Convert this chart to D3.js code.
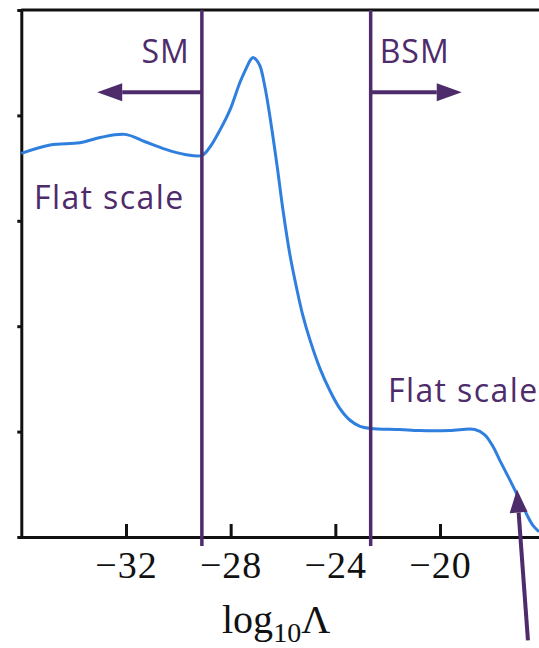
<!DOCTYPE html>
<html>
<head>
<meta charset="utf-8">
<script src="https://cdn.jsdelivr.net/npm/d3@7"></script>
<style>
  body { margin: 0; background: #fff; }
  svg { display: block; }
</style>
</head>
<body>
<div id="chart"></div>
<script>
// curve: x = log10 Lambda, y = unlabelled density
const lambdaLog = [-36.0, -34.9, -33.76, -32.99, -32.04, -31.27, -30.51, -29.75, -29.10, -28.79,
  -28.41, -28.03, -27.65, -27.38, -27.26, -27.15, -27.03, -26.88, -26.69, -26.50,
  -26.23, -26.00, -25.73, -25.47, -25.24, -24.97, -24.59, -24.21, -23.83, -23.45,
  -23.06, -22.64, -21.54, -20.77, -19.63, -18.67, -18.29, -17.98, -17.72, -17.41,
  -17.07, -16.76, -16.45, -16.22];
const density = [3.64, 3.72, 3.74, 3.79, 3.82, 3.75, 3.68, 3.63, 3.62, 3.70,
  3.86, 4.05, 4.31, 4.46, 4.52, 4.55, 4.53, 4.47, 4.27, 3.99,
  3.53, 3.10, 2.67, 2.35, 2.10, 1.87, 1.60, 1.39, 1.22, 1.11,
  1.05, 1.03, 1.02, 1.01, 1.01, 1.02, 0.97, 0.86, 0.73, 0.58,
  0.41, 0.25, 0.11, 0.05];

const xTicks = [-32, -28, -24, -20];
const yTicks = [1, 2, 3, 4];

// SM / BSM boundaries and the arrows pointing away from them
const boundaries = [-29.1, -22.65];
const regionNames = ['SM', 'BSM'];
const arrowTips = [-33.1, -19.17];
const arrowLevel = 4.22;
const flatLabels = ['Flat scale', 'Flat scale'];

const width = 539, height = 648;
const purple = '#4e2c6b';
const blue = '#2f7fdf';

const svg = d3.select('#chart').append('svg')
  .attr('width', width)
  .attr('height', height);

const x = d3.scaleLinear().domain([-36, -16]).range([21.3, 544.7]);
const y = d3.scaleLinear().domain([0, 5]).range([537, 10]);

// top frame line
svg.append('line')
  .attr('x1', x(-36)).attr('x2', width)
  .attr('y1', y(5)).attr('y2', y(5))
  .attr('stroke', '#111').attr('stroke-width', 3);

// y axis (no labels)
const yAxis = svg.append('g')
  .attr('transform', `translate(${x(-36)},0)`)
  .call(d3.axisLeft(y).tickValues(yTicks).tickSize(4).tickFormat(''));
yAxis.select('.domain').attr('stroke', '#111').attr('stroke-width', 3);
yAxis.selectAll('.tick line').attr('stroke', '#111').attr('stroke-width', 3);

// x axis
const xAxis = svg.append('g')
  .attr('transform', `translate(0,${y(0)})`)
  .call(d3.axisBottom(x).tickValues(xTicks).tickSizeInner(-13).tickSizeOuter(0)
    .tickFormat(d3.format('d')));
xAxis.select('.domain').attr('stroke', '#111').attr('stroke-width', 3);
xAxis.selectAll('.tick line').attr('stroke', '#111').attr('stroke-width', 3);
xAxis.selectAll('.tick text')
  .attr('y', 41).attr('dy', 0)
  .attr('fill', '#111')
  .style('font-family', '"Liberation Serif", serif')
  .style('font-size', '38px')
  .style('letter-spacing', '1px');

// axis title
const title = svg.append('text')
  .attr('x', 222).attr('y', 633)
  .attr('fill', '#111')
  .style('font-family', '"Liberation Serif", serif')
  .style('font-size', '40px');
title.append('tspan').text('log');
title.append('tspan').attr('dy', 9).style('font-size', '28px').text('10');
title.append('tspan').attr('dy', -9).text('Λ');

// curve
const line = d3.line()
  .x((d, i) => x(lambdaLog[i]))
  .y(d => y(d))
  .curve(d3.curveCatmullRom.alpha(0.5));

svg.append('path')
  .datum(density)
  .attr('d', line)
  .attr('fill', 'none')
  .attr('stroke', blue)
  .attr('stroke-width', 3);

// boundary lines
svg.selectAll('.boundary')
  .data(boundaries)
  .enter().append('line')
  .attr('class', 'boundary')
  .attr('x1', d => x(d)).attr('x2', d => x(d))
  .attr('y1', y(5)).attr('y2', y(0) + 9)
  .attr('stroke', purple).attr('stroke-width', 3.5);

// arrows
function arrow(g, x0, y0, x1, y1, headLen, headHalf, w) {
  const ang = Math.atan2(y1 - y0, x1 - x0);
  const bx = x1 - headLen * Math.cos(ang), by = y1 - headLen * Math.sin(ang);
  g.append('line')
    .attr('x1', x0).attr('y1', y0).attr('x2', bx).attr('y2', by)
    .attr('stroke', purple).attr('stroke-width', w);
  const px = -Math.sin(ang) * headHalf, py = Math.cos(ang) * headHalf;
  g.append('path')
    .attr('d', `M${x1},${y1}L${bx + px},${by + py}L${bx - px},${by - py}Z`)
    .attr('fill', purple);
}

const arrows = svg.append('g');
boundaries.forEach((b, i) => {
  arrow(arrows, x(b), y(arrowLevel), x(arrowTips[i]), y(arrowLevel), 25, 9, 4);
});

// bottom-right arrow pointing at the drop
arrow(arrows, x(-16.64), y(-0.98), x(-17.06), y(0.45), 23, 9, 4);

const labelFont = '"Open Sans", sans-serif';
svg.selectAll('.region')
  .data(regionNames)
  .enter().append('text')
  .attr('class', 'region')
  .attr('x', (d, i) => i === 0 ? x(boundaries[0]) - 12 : x(boundaries[1]) + 9)
  .attr('y', 63)
  .attr('text-anchor', (d, i) => i === 0 ? 'end' : 'start')
  .attr('fill', purple)
  .style('font-family', labelFont)
  .style('font-size', '32px')
  .style('letter-spacing', '1px')
  .text(d => d);

svg.selectAll('.flat')
  .data(flatLabels)
  .enter().append('text')
  .attr('class', 'flat')
  .attr('x', (d, i) => i === 0 ? 34 : 388)
  .attr('y', (d, i) => i === 0 ? 209 : 402)
  .attr('fill', purple)
  .style('font-family', labelFont)
  .style('font-size', '32px')
  .style('letter-spacing', '1.4px')
  .text(d => d);
</script>
</body>
</html>
